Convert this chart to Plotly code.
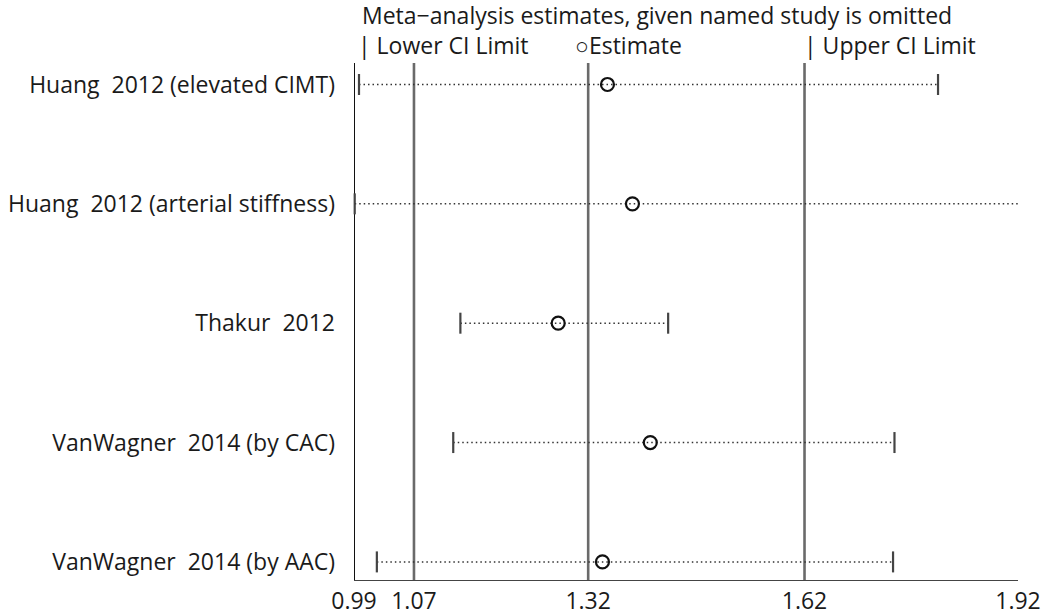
import plotly.graph_objects as go

# Studies omitted in turn, with the pooled estimate and CI obtained without each
studies = [
    "Huang\u00a0\u00a02012 (elevated CIMT)",
    "Huang\u00a0\u00a02012 (arterial stiffness)",
    "Thakur\u00a0\u00a02012",
    "VanWagner\u00a0\u00a02014 (by CAC)",
    "VanWagner\u00a0\u00a02014 (by AAC)",
]
estimate = [1.345, 1.380, 1.276, 1.405, 1.338]
lower_ci = [0.997, 0.991, 1.139, 1.129, 1.022]
upper_ci = [1.808, 1.921, 1.430, 1.747, 1.745]

# Overall pooled estimate with its CI (reference lines)
pooled_lower, pooled_est, pooled_upper = 1.074, 1.318, 1.621
axis_min, axis_max = 0.99, 1.92
tick_vals = [axis_min, pooled_lower, pooled_est, pooled_upper, axis_max]
tick_text = ["0.99", "1.07", "1.32", "1.62", "1.92"]

header = "Meta\u2212analysis estimates, given named study is omitted"
key_labels = ["| Lower CI Limit", "\u25cbEstimate", "| Upper CI Limit"]
key_x = [0.993, 1.297, 1.617]

FONT = "Open Sans"
FS = 23
TXT = "#1a1a1a"
n = len(studies)
ypos = list(range(n, 0, -1))  # first study at the top

fig = go.Figure()

# dotted CI spans
for y, lo, hi in zip(ypos, lower_ci, upper_ci):
    fig.add_trace(go.Scatter(
        x=[lo, hi], y=[y, y], mode="lines",
        line=dict(color="#333333", width=1.5, dash="1.5px,3px"),
        hoverinfo="skip", showlegend=False, cliponaxis=False))

# CI end caps
fig.add_trace(go.Scatter(
    x=lower_ci + upper_ci, y=ypos + ypos, mode="markers",
    marker=dict(symbol="line-ns", size=15, line=dict(color="#444444", width=2.2)),
    hoverinfo="skip", showlegend=False, cliponaxis=False))

# estimates
fig.add_trace(go.Scatter(
    x=estimate, y=ypos, mode="markers",
    marker=dict(symbol="circle-open", size=13, color="#111111",
                line=dict(color="#111111", width=2.2)),
    showlegend=False, cliponaxis=False))

ybot, ytop = 0.84, 5.18
# left boundary line at the axis minimum
fig.add_shape(type="line", xref="x", yref="y", x0=axis_min, x1=axis_min,
              y0=ybot - 0.06, y1=ytop, line=dict(color="#111111", width=2), layer="below")
# pooled reference lines
for v in (pooled_lower, pooled_est, pooled_upper):
    fig.add_shape(type="line", xref="x", yref="y", x0=v, x1=v,
                  y0=ybot - 0.03, y1=ytop, line=dict(color="#6a6a6a", width=2.6), layer="below")
# tick at the axis maximum
fig.add_shape(type="line", xref="x", yref="y", x0=axis_max, x1=axis_max,
              y0=ybot - 0.04, y1=ybot, line=dict(color="#555555", width=2), layer="below")
# horizontal axis line
fig.add_shape(type="line", xref="x", yref="y", x0=axis_min, x1=axis_max,
              y0=ybot, y1=ybot, line=dict(color="#444444", width=2), layer="below")

fig.update_layout(
    width=1053, height=616,
    margin=dict(l=354, r=35, t=63, b=35),
    paper_bgcolor="white", plot_bgcolor="white",
    font=dict(family=FONT, size=FS, color=TXT),
    xaxis=dict(range=[axis_min, axis_max], tickvals=tick_vals, ticktext=tick_text,
               showgrid=False, zeroline=False, showline=False, ticks="",
               ticklabelstandoff=4, automargin=False,
               tickfont=dict(size=FS, family=FONT, color=TXT)),
    yaxis=dict(range=[ybot, ytop], tickvals=ypos, ticktext=studies,
               showgrid=False, zeroline=False, showline=False, ticks="",
               ticklabelstandoff=18, automargin=False,
               tickfont=dict(size=FS, family=FONT, color=TXT)),
)

# header and legend key above the plot
fig.add_annotation(x=0.998, y=1.0, xref="x", yref="paper", yshift=48,
                   text=header, showarrow=False, xanchor="left", yanchor="middle",
                   font=dict(size=FS, family=FONT, color=TXT))
for label, xv in zip(key_labels, key_x):
    fig.add_annotation(x=xv, y=1.0, xref="x", yref="paper", yshift=18,
                       text=label, showarrow=False, xanchor="left", yanchor="middle",
                       font=dict(size=FS, family=FONT, color=TXT))

fig.write_html("out.html")
